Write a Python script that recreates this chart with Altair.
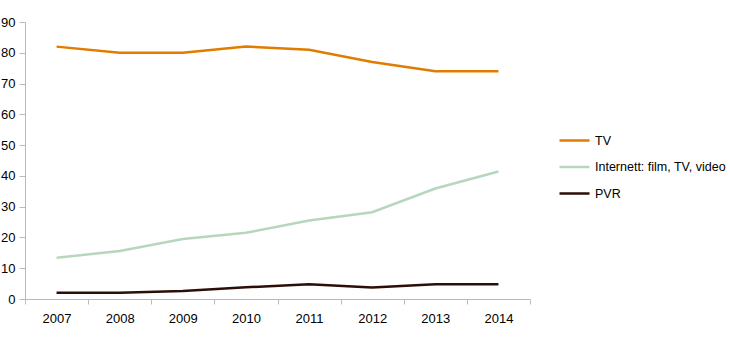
import altair as alt
import pandas as pd

years = ["2007", "2008", "2009", "2010", "2011", "2012", "2013", "2014"]
tv = [82, 80, 80, 82, 81, 77, 74, 74]
internett = [13.4, 15.6, 19.5, 21.5, 25.5, 28.2, 35.9, 41.4]
pvr = [2, 2, 2.6, 3.8, 4.8, 3.7, 4.8, 4.8]

series_names = ["TV", "Internett: film, TV, video", "PVR"]
series_colors = ["#E07C00", "#B7D7BC", "#2B0E05"]

rows = []
for name, vals in zip(series_names, [tv, internett, pvr]):
    for y, v in zip(years, vals):
        rows.append({"year": y, "value": v, "series": name})
df = pd.DataFrame(rows)

font = "Liberation Sans"

chart = alt.Chart(df).mark_line(strokeWidth=2.5).encode(
    x=alt.X("year:O", title=None,
            scale=alt.Scale(type="band", paddingInner=0, paddingOuter=0),
            axis=alt.Axis(labelAngle=0, tickBand="extent", domainColor="#BBBBBB",
                          tickColor="#BBBBBB", tickSize=5, labelPadding=8,
                          labelFont=font, labelFontSize=13, labelColor="#000000")),
    y=alt.Y("value:Q", title=None,
            scale=alt.Scale(domain=[0, 90], nice=False),
            axis=alt.Axis(values=list(range(0, 91, 10)), grid=False, domainColor="#BBBBBB",
                          tickColor="#BBBBBB", tickSize=6, labelPadding=4,
                          labelFont=font, labelFontSize=13, labelColor="#000000")),
    color=alt.Color("series:N", title=None,
                    scale=alt.Scale(domain=series_names, range=series_colors),
                    sort=series_names,
                    legend=alt.Legend(orient="none", legendX=533, legendY=102,
                                      symbolType="stroke", symbolSize=900,
                                      symbolStrokeWidth=2.5, labelFont=font,
                                      labelFontSize=12.5, labelColor="#000000",
                                      rowPadding=3.5, labelOffset=4)),
    order=alt.Order("year:O"),
).properties(
    width=505, height=277,
    padding={"left": 25, "top": 22, "right": 200, "bottom": 40},
    autosize=alt.AutoSizeParams(type="none"),
).configure_view(stroke=None)

chart.save("out.html", embed_options={"renderer": "svg", "actions": False})
